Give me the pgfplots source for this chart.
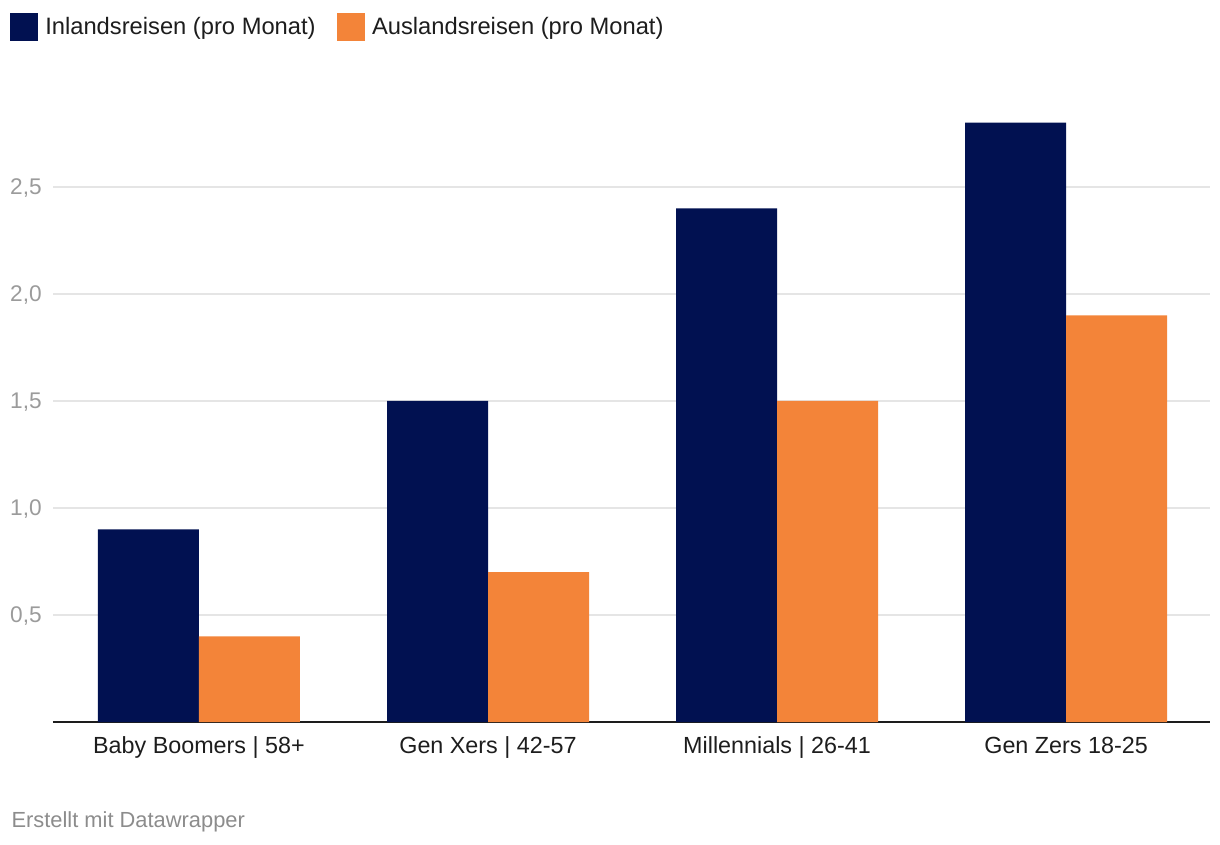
\documentclass[border=0pt]{standalone}
\usepackage{pgfplots}
\pgfplotsset{compat=1.18}
\usepackage{fontspec}
\setmainfont{Liberation Sans}
\definecolor{navy}{RGB}{1,17,81}
\definecolor{orng}{RGB}{243,132,57}
\definecolor{gridc}{RGB}{229,229,229}
\definecolor{tickc}{RGB}{155,155,155}
\definecolor{labc}{RGB}{29,29,29}
\definecolor{capc}{RGB}{140,140,140}
\begin{document}
\begin{tikzpicture}
\path[use as bounding box] (0pt,0pt) rectangle (915pt,633pt);
\begin{axis}[
  at={(39.75pt,91.5pt)}, anchor=south west,
  scale only axis, width=867.75pt, height=457.5pt,
  xmin=-0.505, xmax=3.498, ymin=0, ymax=2.85,
  axis x line*=bottom, axis y line*=left,
  x axis line style={line width=1.5pt, color=labc, -},
  y axis line style={draw=none},
  ybar, bar width=75.75pt,
  xtick={0,1,2,3},
  xticklabels={Baby Boomers | 58+, Gen Xers | 42-57, Millennials | 26-41, Gen Zers 18-25},
  ytick={0.5,1,1.5,2,2.5},
  major tick length=0pt,
  ymajorgrids, grid style={line width=1.2pt, color=gridc},
  /pgf/number format/assume math mode=true,
  yticklabel style={/pgf/number format/.cd, use comma, fixed, fixed zerofill, precision=1, /tikz/.cd,
    font=\fontsize{17}{20}\selectfont, text=tickc, anchor=base east, inner sep=0pt, xshift=-8.25pt, yshift=-6pt},
  xticklabel style={font=\fontsize{17.5}{20}\selectfont, text=labc, anchor=base, inner sep=0pt, yshift=-23.25pt},
  legend columns=2,
  legend style={at={(-0.03717,1.1393)}, anchor=west, draw=none, fill=none, inner sep=0pt,
    font=\fontsize{17.8}{20}\selectfont, text=labc,
    nodes={inner sep=0pt},
    /tikz/every odd column/.append style={column sep=0pt},
    /tikz/every even column/.append style={column sep=16pt}},
  legend image code/.code={\fill[#1, draw=none] (0pt,-10.5pt) rectangle (21pt,10.5pt); \path (26.25pt,0pt);},
]
\addplot[fill=navy, draw=none, bar shift=-37.875pt] coordinates {(0,0.9) (1,1.5) (2,2.4) (3,2.8)};
\addplot[fill=orng, draw=none, bar shift=37.875pt] coordinates {(0,0.4) (1,0.7) (2,1.5) (3,1.9)};
\legend{Inlandsreisen (pro Monat), Auslandsreisen (pro Monat)}
\end{axis}
\node[anchor=base west, inner sep=0pt, text=capc, font=\fontsize{16.4}{18}\selectfont] at (8.5pt,12.75pt) {Erstellt mit Datawrapper};
\end{tikzpicture}
\end{document}
